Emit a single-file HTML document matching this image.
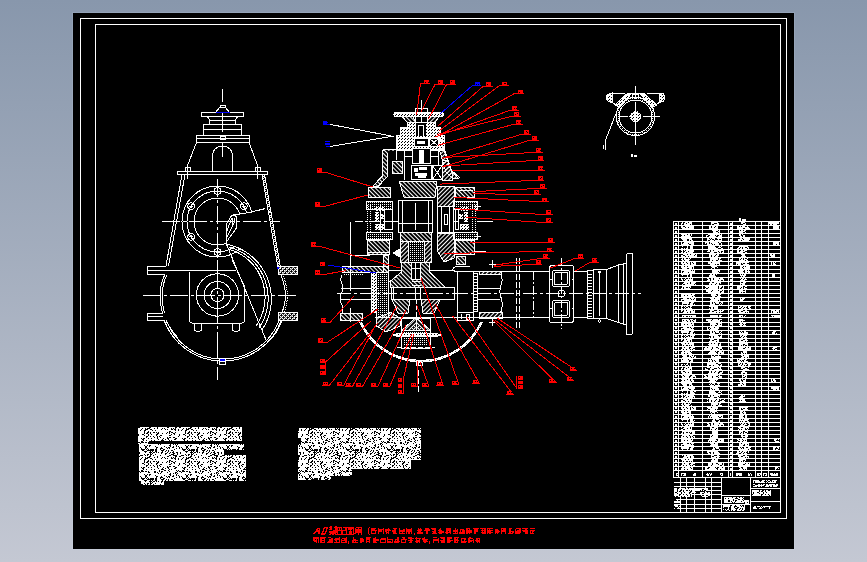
<!DOCTYPE html>
<html><head><meta charset="utf-8"><title>CAD</title>
<style>
html,body{margin:0;padding:0;width:867px;height:562px;overflow:hidden;background:linear-gradient(to bottom,#8897ac 0%,#c4c8d3 100%);font-family:"Liberation Sans",sans-serif;}
svg{position:absolute;left:0;top:0;display:block}
</style></head>
<body>
<svg width="867" height="562" viewBox="0 0 867 562" shape-rendering="crispEdges">
<defs>
<pattern id="h1" width="3" height="3" patternUnits="userSpaceOnUse" patternTransform="rotate(-45)"><rect width="1" height="3" fill="#fff"/></pattern>
<pattern id="h2" width="3" height="3" patternUnits="userSpaceOnUse" patternTransform="rotate(45)"><rect width="1" height="3" fill="#fff"/></pattern>
<pattern id="wd" width="3" height="3" patternUnits="userSpaceOnUse"><rect width="3" height="3" fill="#fff"/><rect x="0" y="0" width="1" height="1" fill="#000"/><rect x="2" y="1" width="1" height="1" fill="#000"/></pattern>
<pattern id="dots" width="2" height="2" patternUnits="userSpaceOnUse"><rect width="1" height="1" fill="#fff"/></pattern>
<pattern id="tx" width="41" height="29" patternUnits="userSpaceOnUse"><rect width="41" height="29" fill="#fff"/><path d="M0,6h1v1h-1zM0,11h1v1h-1zM0,14h1v1h-1zM0,22h1v1h-1zM1,4h1v1h-1zM1,6h1v1h-1zM1,16h1v1h-1zM1,18h1v1h-1zM1,19h1v1h-1zM1,23h1v1h-1zM2,12h1v1h-1zM2,15h1v1h-1zM2,18h1v1h-1zM2,27h1v1h-1zM3,2h1v1h-1zM3,3h1v1h-1zM3,8h1v1h-1zM3,13h1v1h-1zM3,17h1v1h-1zM3,21h1v1h-1zM3,23h1v1h-1zM3,26h1v1h-1zM4,3h1v1h-1zM4,4h1v1h-1zM4,6h1v1h-1zM4,12h1v1h-1zM4,15h1v1h-1zM4,16h1v1h-1zM4,21h1v1h-1zM5,0h1v1h-1zM5,2h1v1h-1zM5,5h1v1h-1zM5,7h1v1h-1zM5,10h1v1h-1zM5,12h1v1h-1zM5,13h1v1h-1zM5,18h1v1h-1zM5,20h1v1h-1zM5,25h1v1h-1zM5,26h1v1h-1zM5,27h1v1h-1zM6,0h1v1h-1zM6,2h1v1h-1zM6,9h1v1h-1zM6,10h1v1h-1zM6,11h1v1h-1zM6,17h1v1h-1zM6,20h1v1h-1zM6,25h1v1h-1zM7,5h1v1h-1zM7,15h1v1h-1zM7,19h1v1h-1zM7,22h1v1h-1zM7,23h1v1h-1zM7,26h1v1h-1zM7,28h1v1h-1zM8,12h1v1h-1zM8,15h1v1h-1zM8,17h1v1h-1zM8,19h1v1h-1zM8,23h1v1h-1zM8,26h1v1h-1zM9,2h1v1h-1zM9,9h1v1h-1zM9,11h1v1h-1zM9,12h1v1h-1zM9,16h1v1h-1zM9,17h1v1h-1zM9,18h1v1h-1zM9,19h1v1h-1zM9,20h1v1h-1zM9,22h1v1h-1zM9,27h1v1h-1zM10,2h1v1h-1zM10,4h1v1h-1zM10,14h1v1h-1zM10,18h1v1h-1zM10,20h1v1h-1zM10,23h1v1h-1zM10,27h1v1h-1zM10,28h1v1h-1zM11,3h1v1h-1zM11,4h1v1h-1zM11,8h1v1h-1zM11,9h1v1h-1zM11,20h1v1h-1zM11,21h1v1h-1zM11,22h1v1h-1zM11,23h1v1h-1zM11,24h1v1h-1zM11,26h1v1h-1zM12,3h1v1h-1zM12,6h1v1h-1zM12,8h1v1h-1zM12,10h1v1h-1zM12,11h1v1h-1zM12,13h1v1h-1zM12,17h1v1h-1zM12,20h1v1h-1zM12,21h1v1h-1zM13,7h1v1h-1zM13,9h1v1h-1zM13,17h1v1h-1zM13,18h1v1h-1zM13,19h1v1h-1zM14,1h1v1h-1zM14,6h1v1h-1zM14,11h1v1h-1zM14,23h1v1h-1zM14,24h1v1h-1zM15,0h1v1h-1zM15,7h1v1h-1zM15,12h1v1h-1zM15,13h1v1h-1zM15,21h1v1h-1zM15,28h1v1h-1zM16,7h1v1h-1zM16,17h1v1h-1zM16,18h1v1h-1zM16,21h1v1h-1zM17,8h1v1h-1zM17,12h1v1h-1zM17,20h1v1h-1zM17,24h1v1h-1zM18,3h1v1h-1zM18,6h1v1h-1zM18,7h1v1h-1zM18,13h1v1h-1zM18,14h1v1h-1zM18,20h1v1h-1zM18,23h1v1h-1zM19,4h1v1h-1zM19,6h1v1h-1zM19,7h1v1h-1zM19,14h1v1h-1zM19,15h1v1h-1zM19,20h1v1h-1zM19,22h1v1h-1zM19,28h1v1h-1zM20,3h1v1h-1zM20,4h1v1h-1zM20,5h1v1h-1zM20,7h1v1h-1zM20,14h1v1h-1zM20,15h1v1h-1zM20,28h1v1h-1zM21,0h1v1h-1zM21,3h1v1h-1zM21,10h1v1h-1zM21,14h1v1h-1zM21,16h1v1h-1zM21,19h1v1h-1zM21,24h1v1h-1zM21,25h1v1h-1zM21,26h1v1h-1zM21,27h1v1h-1zM22,7h1v1h-1zM22,11h1v1h-1zM22,12h1v1h-1zM22,13h1v1h-1zM22,16h1v1h-1zM22,17h1v1h-1zM22,20h1v1h-1zM22,22h1v1h-1zM22,23h1v1h-1zM22,24h1v1h-1zM23,1h1v1h-1zM23,2h1v1h-1zM23,5h1v1h-1zM23,7h1v1h-1zM23,11h1v1h-1zM23,12h1v1h-1zM23,14h1v1h-1zM23,16h1v1h-1zM23,23h1v1h-1zM23,27h1v1h-1zM24,1h1v1h-1zM24,10h1v1h-1zM24,13h1v1h-1zM24,15h1v1h-1zM24,19h1v1h-1zM24,20h1v1h-1zM24,22h1v1h-1zM24,23h1v1h-1zM24,26h1v1h-1zM24,27h1v1h-1zM25,0h1v1h-1zM25,3h1v1h-1zM25,7h1v1h-1zM25,8h1v1h-1zM25,14h1v1h-1zM25,15h1v1h-1zM25,19h1v1h-1zM25,22h1v1h-1zM25,25h1v1h-1zM25,26h1v1h-1zM25,28h1v1h-1zM26,8h1v1h-1zM26,10h1v1h-1zM26,11h1v1h-1zM26,15h1v1h-1zM26,17h1v1h-1zM26,21h1v1h-1zM26,22h1v1h-1zM27,1h1v1h-1zM27,10h1v1h-1zM27,14h1v1h-1zM27,15h1v1h-1zM27,16h1v1h-1zM27,17h1v1h-1zM27,18h1v1h-1zM27,19h1v1h-1zM27,20h1v1h-1zM27,21h1v1h-1zM27,23h1v1h-1zM27,26h1v1h-1zM27,27h1v1h-1zM28,3h1v1h-1zM28,5h1v1h-1zM28,14h1v1h-1zM28,15h1v1h-1zM28,17h1v1h-1zM28,19h1v1h-1zM28,23h1v1h-1zM28,28h1v1h-1zM29,14h1v1h-1zM29,15h1v1h-1zM29,16h1v1h-1zM29,18h1v1h-1zM29,24h1v1h-1zM30,1h1v1h-1zM30,14h1v1h-1zM30,15h1v1h-1zM30,17h1v1h-1zM30,20h1v1h-1zM30,26h1v1h-1zM31,2h1v1h-1zM31,5h1v1h-1zM31,7h1v1h-1zM31,8h1v1h-1zM31,17h1v1h-1zM31,22h1v1h-1zM31,26h1v1h-1zM32,7h1v1h-1zM32,8h1v1h-1zM32,11h1v1h-1zM32,14h1v1h-1zM32,15h1v1h-1zM32,16h1v1h-1zM32,19h1v1h-1zM32,24h1v1h-1zM33,0h1v1h-1zM33,12h1v1h-1zM33,13h1v1h-1zM33,14h1v1h-1zM33,15h1v1h-1zM33,16h1v1h-1zM33,17h1v1h-1zM33,26h1v1h-1zM33,28h1v1h-1zM34,1h1v1h-1zM34,2h1v1h-1zM34,3h1v1h-1zM34,8h1v1h-1zM34,12h1v1h-1zM34,21h1v1h-1zM34,22h1v1h-1zM34,27h1v1h-1zM34,28h1v1h-1zM35,4h1v1h-1zM35,9h1v1h-1zM35,17h1v1h-1zM35,26h1v1h-1zM35,27h1v1h-1zM36,1h1v1h-1zM36,6h1v1h-1zM36,7h1v1h-1zM37,0h1v1h-1zM37,2h1v1h-1zM37,9h1v1h-1zM37,13h1v1h-1zM37,14h1v1h-1zM37,20h1v1h-1zM38,0h1v1h-1zM38,5h1v1h-1zM38,7h1v1h-1zM38,8h1v1h-1zM38,12h1v1h-1zM38,13h1v1h-1zM38,15h1v1h-1zM38,17h1v1h-1zM38,18h1v1h-1zM38,23h1v1h-1zM39,4h1v1h-1zM39,5h1v1h-1zM39,7h1v1h-1zM39,13h1v1h-1zM39,15h1v1h-1zM39,16h1v1h-1zM39,17h1v1h-1zM39,22h1v1h-1zM39,27h1v1h-1zM40,3h1v1h-1zM40,5h1v1h-1zM40,14h1v1h-1zM40,15h1v1h-1z" fill="#000"/></pattern>
</defs>
<rect x="72.5" y="12.5" width="722" height="537" fill="none" stroke="rgba(225,235,255,0.12)"/>
<rect x="73" y="13" width="721" height="536" fill="#000"/>
<g fill="none" stroke="#fff" stroke-width="1" shape-rendering="crispEdges">
<rect x="80.5" y="18.5" width="706" height="500"/>
<rect x="95.5" y="24.5" width="685" height="488"/>
</g>
<!-- LEFT VIEW -->
<g fill="none" stroke="#fff" stroke-width="1">
<!-- top centerline -->
<path d="M222.5,89V102M222.5,112V132M222.5,142V157"/>
<!-- cap -->
<path d="M215.5,112.5L219.5,107.5H225.5L229.5,112.5"/>
<path d="M220,107.5V105.5H225V107.5"/>
<!-- flange -->
<rect x="201.5" y="112.5" width="42" height="3.5"/>
<path d="M206,116Q209,117 209.5,120.5M239,116Q236,117 235.5,120.5"/>
<rect x="209.5" y="120.5" width="26" height="4"/>
<rect x="203.5" y="124.5" width="38" height="11"/>
<path d="M203.5,129.5H241.5"/>
<rect x="196.5" y="135.5" width="52.5" height="7"/>
<path d="M196.5,138.5H249"/>
<path d="M220,136.5h5v3h-5z"/>
<!-- taper -->
<path d="M196.5,142.5L186.5,168M249,142.5L258.5,168"/>
<!-- arch -->
<path d="M212.5,171V155A10,9 0 0 1 232.5,155V171"/>
<!-- plate -->
<rect x="177.5" y="171.5" width="90" height="3"/>
<rect x="185.5" y="167.5" width="5" height="4"/>
<rect x="255.5" y="167.5" width="5" height="4"/>
<path d="M187.5,164V179M257.5,164V179"/>
<!-- left wall -->
<path d="M182,174.5L166,266M185,174.5L168.5,266"/>
<!-- right wall -->
<path d="M262,174.5L278,268M264.5,174.5L280.5,268"/>
<path d="M263.5,176L279,266" stroke-dasharray="1,1"/>
<!-- ribs -->
<path d="M166,266.5H147.5V274.5H165M147.5,270.5H166"/>
<path d="M163,313.5H147.5V320.5H164M147.5,316.5H163"/>
<rect x="278.5" y="266.5" width="19" height="7.5" fill="url(#dots)"/><rect x="278.5" y="266.5" width="19" height="7.5" fill="url(#h2)"/>
<rect x="278.5" y="312.5" width="19" height="7.5" fill="url(#dots)"/><rect x="278.5" y="312.5" width="19" height="7.5" fill="url(#h2)"/>
<!-- lower wall -->
<path d="M165,274.5Q160.5,282 160,296Q160.5,306 162.5,313M164,320.5Q168,330 176,340"/>
<path d="M167,275Q162.5,283 162,296Q162.5,306 164.5,313M166,320.5Q170,329 178,338"/>
<path d="M280.5,274Q285,284 285.5,296Q285,306 282,312M282,320Q278,332 270,340"/>
<path d="M282.5,274Q287,284 287.5,296Q287,306 284,312" stroke-dasharray="1,1"/>
<!-- big lower arc -->
<path d="M164,320A62.5,62.5 0 0 0 281.5,320"/>
<path d="M166.5,321A60.5,60.5 0 0 0 279,321"/>
<!-- flange circles -->
<circle cx="217.5" cy="221.5" r="35.5"/>
<circle cx="217.5" cy="221.5" r="30.5"/>
<circle cx="217.5" cy="221.5" r="23.5"/>
<g>
<circle cx="217.5" cy="191.0" r="3.3"/><circle cx="191.1" cy="206.2" r="3.3"/><circle cx="243.9" cy="206.2" r="3.3"/><circle cx="191.1" cy="236.8" r="3.3"/><circle cx="217.5" cy="252.0" r="3.3"/>
<path d="M215.5,191.0h4M217.5,189.0v4M189.1,206.2h4M191.1,204.2v4M241.9,206.2h4M243.9,204.2v4M189.1,236.8h4M191.1,234.8v4M215.5,252.0h4M217.5,250.0v4"/>
</g>
<!-- centerlines -->
<path d="M162,221.5H280M217.5,179V268" stroke-dasharray="18,3,3,3"/>
<path d="M143,295H298" stroke-dasharray="18,3,3,3"/>
<path d="M217.5,262V380" stroke-dasharray="26,3,3,3"/>
<!-- lower box -->
<path d="M164,270.5H236M189.5,272V320.5Q189.5,323 192,323H242Q244.5,323 244.5,320.5V287"/>
<circle cx="217.5" cy="295" r="21.2"/>
<circle cx="217.5" cy="295" r="13.5"/>
<circle cx="217.5" cy="295" r="6.6"/>
<!-- feet -->
<path d="M194.5,323V329Q194.5,331.5 198,331.5Q201.5,331.5 201.5,329V323M232.5,323V329Q232.5,331.5 236,331.5Q239.5,331.5 239.5,329V323"/>
<!-- S curve -->
<path d="M236.5,214.8L265.5,208.5L269,225L272.5,243L272,262L258,258L248,252L238,247.5L227,244.5V222Z" fill="#000" stroke="none"/>
<path d="M237.5,214.5L251.5,212L265.5,208.5"/>
<path d="M226,242.5V225L231,216.5Q233,215 235,215.5Q236.8,216.5 236.8,218.5V227.5L226,242.5"/>
<path d="M231.5,218.5L226.8,231.5M234.8,221L227.2,237M232,217.5V225M234.5,218V223M231,215.5L237.6,214.2"/>
<path d="M226,243L266,340"/>
<path d="M226,244A56,56 0 0 1 262,330"/>
<path d="M229,247A53,53 0 0 1 259,328"/>
<path d="M231.5,250A50,50 0 0 1 256,326"/>
<path d="M232,260L245,287"/>
<path d="M162,221.5H280" stroke-dasharray="18,3,3,3"/>
</g>
<!-- CENTER SECTION -->
<g stroke="#fff" stroke-width="1">
<path d="M421.5,100V109" fill="none"/>
<rect x="415.5" y="108.5" width="12" height="4" fill="none"/>
<!-- flange -->
<path d="M396,112.5H441Q443.5,112.5 443.5,114.5Q443.5,116.5 441,116.5H396Q394,116.5 394,114.5Q394,112.5 396,112.5Z" fill="url(#wd)"/>
<path d="M402,116.5H413L415.5,122.5H407.5Z" fill="url(#h1)"/>
<path d="M428,116.5H439L435,122.5H427Z" fill="url(#h2)"/>
<path d="M415.5,110V122M421.5,109V122M427.5,110V122" fill="none"/>
<path d="M407.5,122.5H435V127H440V135H444V150H396V135H400.5V127H407.5Z" fill="url(#wd)"/>
<path d="M407.5,122.5H435" fill="none"/>
<rect x="416" y="122.5" width="10" height="13" fill="#000" stroke="none"/>
<path d="M418.5,136V125H423.5V136" fill="none"/>
<!-- cells row1 -->
<rect x="414.5" y="138.5" width="14" height="8" fill="#000"/>
<path d="M417,141h8v3h-8z" fill="#fff" stroke="none"/>
<rect x="429.5" y="138.5" width="9" height="8" fill="#000"/>
<path d="M429.5,138.5L438.5,146.5M438.5,138.5L429.5,146.5" fill="none"/>
<!-- housing walls -->
<path d="M396,149H386Q382.5,149 382.5,152.5V176L372.5,186.5H378L387,177V153H396Z" fill="url(#h1)"/>
<path d="M439.5,136.5L450.5,169.5L460,178" fill="none"/>
<path d="M438,148H444L451,170L458,178H452L446,172L440,152Z" fill="url(#h2)"/>
<!-- middle -->
<rect x="387.5" y="150.5" width="51" height="30" fill="#000" stroke="none"/>
<path d="M396.5,150V160M392,161H402L402,173H392Z" fill="none"/>
<path d="M392,161H402V173H392Z" fill="url(#h1)"/>
<rect x="412.5" y="148.5" width="18" height="15" fill="#000"/>
<path d="M419,163V150H423.5V163" fill="#fff"/>
<path d="M404.5,149V180M404.5,156.5H412M430.5,156H438M438.5,148V180" fill="none"/>
<rect x="411.5" y="165.5" width="20" height="14" fill="#000"/>
<path d="M414,168h4v4h-4zM419,167h8v3h-8zM415,173h12v3h-12zM418,176h8v2h-8z" fill="#fff" stroke="none"/>
<rect x="432.5" y="165.5" width="9.5" height="14" fill="#000"/>
<path d="M432.5,165.5L442,179.5M442,165.5L432.5,179.5" fill="none"/>
<path d="M442.5,160H448L452,172V180H442.5Z" fill="url(#h2)"/>
<!-- gear top -->
<path d="M399,181H437L435,197H404Z" fill="url(#h1)"/>
<!-- left bearing column -->
<rect x="367.5" y="186.5" width="24" height="70" fill="#000" stroke="none"/>
<path d="M368.5,187.5H390.5V197.5H368.5Z" fill="url(#h1)"/>
<path d="M366.5,201.5H392.5V209.5H366.5Z" fill="url(#dots)"/>
<path d="M366.5,232.5H392.5V239.5H366.5Z" fill="url(#dots)"/>
<path d="M355,221.5H400" fill="none" stroke-dasharray="8,2,2,2"/>
<path d="M367.5,252.5H389.5" fill="none"/>
<path d="M367.5,240.5H389.5V254.5H367.5Z" fill="url(#h1)"/>
<path d="M370.5,205V232M367.5,205V232" fill="none" stroke-dasharray="1,1"/>
<path d="M375,207h9v4h-9zM375,212h4v10h-4zM380,214h4v5h-4zM375,224h9v6h-9z" fill="url(#wd)" stroke="none"/>
<rect x="384.5" y="209.5" width="8" height="20" fill="none"/>
<path d="M384.5,221.5H400M380.5,205V232" fill="none"/>
<!-- right bearing column -->
<rect x="454.5" y="186.5" width="21" height="70" fill="#000" stroke="none"/>
<path d="M455.5,187.5H474.5V197.5H455.5Z" fill="url(#h1)"/>
<path d="M453.5,201.5H477.5V209.5H453.5Z" fill="url(#dots)"/>
<path d="M453.5,232.5H477.5V239.5H453.5Z" fill="url(#dots)"/>
<path d="M455.5,240.5H474.5V254.5H455.5Z" fill="url(#h1)"/>
<path d="M472.5,205V232M475.5,205V232" fill="none" stroke-dasharray="1,1"/>
<path d="M461,207h8v4h-8zM464,212h4v10h-4zM459,214h4v5h-4zM460,224h9v6h-9z" fill="url(#wd)" stroke="none"/>
<rect x="455.5" y="209.5" width="3" height="20" fill="none"/>
<path d="M474.5,206.5H481M477,221.5H493M474.5,236.5H481M474.5,251.5H486M441,221.5H458M458,190.5H473" fill="none"/>
<path d="M456.5,256.5H465.5V264H456.5Z" fill="url(#h1)"/>
<!-- right bevel -->
<path d="M437,186H454V206H437Z" fill="url(#h2)"/>
<path d="M437,233H454V258L444,262L437,250Z" fill="url(#h2)"/>
<rect x="437.5" y="206.5" width="16" height="26" fill="#000"/>
<path d="M441.5,207V232M449.5,207V232M444,214h3v10h-3z" fill="none"/>
<!-- shaft box -->
<rect x="398.5" y="200.5" width="34" height="32" fill="#000"/>
<path d="M398.5,200.5H432.5V232.5H398.5ZM402.5,200.5V232.5M428.5,200.5V232.5M415.5,203V230M398.5,223.5H432.5" fill="none"/>
<!-- lower gear -->
<path d="M400.5,232.5H431.5V241H400.5Z" fill="url(#h1)"/>
<path d="M400.5,241H408V262.5H400.5ZM424,241H431.5V262.5H424Z" fill="url(#h2)"/>
<rect x="408" y="241" width="16" height="21" fill="url(#dots)" stroke="none"/>
<path d="M393,253L400,249V257Z" fill="#fff"/>
<!-- vertical shaft + upper bevel wedge -->
<path d="M401.5,262.5H429.5V272L442.5,284.5L445,287.5H391L390,281.5L401.5,272Z" fill="url(#h1)"/>
<rect x="411.5" y="262.5" width="8.5" height="17" fill="#000"/>
<path d="M415.5,263V279M411.5,268.5H420M411.5,279.5H420" fill="none"/>
<path d="M411.5,281.5H421M411.5,285.5H421" fill="none"/>
<!-- horizontal band -->
<path d="M388.5,270.5H401M430,270.5H454.5" fill="none"/>
<!-- left shaft housing -->
<path d="M342.5,266.5H388.5V272.5H342.5Z" fill="url(#h1)"/>
<path d="M383.5,255H388.5V272H383.5Z" fill="url(#h1)"/>
<rect x="342.5" y="272.5" width="20" height="2" fill="url(#dots)" stroke="none"/>
<path d="M342,275Q339.5,280 342.5,285Q344,290 340.5,295Q339,300 342.5,306Q344,310 341.5,314" fill="none"/>
<path d="M340.5,288.5H378M340.5,299.5H378" fill="none"/>
<path d="M340.5,313.5H362.5V320.5H340.5Z" fill="url(#h1)"/>
<rect x="371.5" y="272.5" width="5" height="40" fill="url(#wd)"/>
<rect x="376.5" y="272.5" width="12" height="45" fill="url(#dots)"/>
<path d="M376.5,317.5L391,312.5L400,318V326L386,332L376.5,326Z" fill="url(#h2)"/>
<path d="M350.5,255V291M350.5,308V322M350.5,222V255H369.5" fill="none"/>
<!-- central horizontal shaft -->
<rect x="391.5" y="287.5" width="63" height="11.5" fill="#000"/>
<path d="M393.5,287.5V299M415.5,287.5V299M420.5,287.5V299" fill="none"/>
<!-- lower bevel wedges -->
<path d="M392,299.5H410L408,313L398,313Z" fill="url(#h1)"/>
<path d="M421,299.5H440L434,313L423,313Z" fill="url(#h2)"/>
<path d="M375,317.5H458" fill="none"/>
<!-- RIGHT SHAFT -->
<path d="M454,271.5H549M573.5,271.5H588M454,317.5H549M573.5,317.5H588" fill="none"/>
<path d="M452.5,271Q453,266.5 457,266.5H470" fill="none"/>
<rect x="457.5" y="271.5" width="16" height="41" fill="#000"/>
<rect x="457.5" y="312.5" width="16" height="8" fill="none"/>
<path d="M461,314v5M466,314h3v5h-3z" fill="none"/>
<path d="M473.5,273.5H477V311.5H473.5Z" fill="none"/>
<path d="M474,276h3M474,279h3M474,282h3M474,285h3M474,288h3M474,291h3M474,294h3M474,297h3M474,300h3M474,303h3M474,306h3M474,309h3" fill="none"/>
<path d="M479,271.5H501V274.5H479Z" fill="url(#h2)"/>
<path d="M479,312.5H502.5V318H479Z" fill="url(#h2)"/>
<path d="M477,288.5H500M477,299.5H500" fill="none"/>
<path d="M501,274Q503.5,280 500.5,287Q499,293 501.5,299Q503.5,306 500.5,313" fill="none"/>
<path d="M492.5,260V268M492.5,318V326M489,264.5h7M489,322.5h7" fill="none"/>
<path d="M502.5,271.5H549M502.5,317.5H549" fill="none"/>
<path d="M516.5,258V330M519.5,258V330" fill="none" stroke-dasharray="6,2"/>
<path d="M533.5,271V318" fill="none" stroke-dasharray="9,2,2,2"/>
<!-- coupling -->
<rect x="549.5" y="265.5" width="24" height="57" rx="2.5" fill="none"/>
<rect x="552.5" y="270.5" width="17" height="16" rx="2" fill="none"/>
<rect x="554.5" y="272.5" width="13" height="12" rx="1.5" fill="none"/>
<rect x="552.5" y="300.5" width="17" height="17" rx="2" fill="none"/>
<rect x="554.5" y="302.5" width="13" height="13" rx="1.5" fill="none"/>
<circle cx="561.5" cy="293.5" r="3.5" fill="none"/>
<path d="M561.5,258V329" fill="none" stroke-dasharray="8,2,2,2"/>
<path d="M549.5,279h2M549.5,308h2M571.5,279h2M571.5,308h2" fill="none"/>
<rect x="587.5" y="270.5" width="5.5" height="48" fill="none"/>
<path d="M588,274h4M588,277h4M588,280h4M588,283h4M588,286h4M588,289h4M588,292h4M588,295h4M588,298h4M588,301h4M588,304h4M588,307h4M588,310h4M588,313h4M588,316h4" fill="none"/>
<path d="M593,269.5H606.5V318.5H593ZM599.5,272V316" fill="none"/>
<circle cx="599.5" cy="272" r="1" fill="none"/><circle cx="599.5" cy="321" r="1.3" fill="none"/>
<path d="M606.5,269.5L618.5,265L626,263.5M606.5,318.5L618.5,322.5L626,324.5M618.5,265V322.5M623.5,263.5V324.5" fill="none"/>
<rect x="626.5" y="253.5" width="6" height="81" rx="1.5" fill="none"/>
<path d="M454,293.5H641" fill="none" stroke-dasharray="14,3,3,3"/>
<path d="M337,293.5H454" fill="none" stroke-dasharray="14,3,3,3"/>
<!-- lower big arc (dotted band) -->
<path d="M360.5,322A66.3,66.3 0 0 0 481.5,322" fill="none" stroke-width="2.6"/>
<path d="M360.5,322A66.3,66.3 0 0 0 481.5,322" fill="none" stroke="#000" stroke-width="0.6" stroke-dasharray="1,6"/>
<path d="M418.5,360V366M416,362h6v3h-6z" fill="none"/>
<path d="M418.5,370V392" fill="none" stroke-dasharray="6,2"/>
<!-- lower bevel parts -->
<path d="M401.5,318H430.5V348H401.5Z" fill="#000"/>
<path d="M401.5,330.5L416,317.5V330.5Z" fill="url(#h2)"/>
<path d="M430.5,330.5L416,317.5V330.5Z" fill="url(#h1)"/>
<path d="M407,330.5L416,323L425,330.5Z" fill="url(#dots)" stroke="none"/>
<path d="M401.5,330.5L416,317.5L430.5,330.5" fill="none"/>
<path d="M393.5,335L397,333.5H436.5L440.5,335L436.5,336.5H397Z" fill="url(#wd)"/>
<rect x="404" y="337" width="24" height="9" fill="url(#dots)" stroke="none"/>
<path d="M404,331h24v2h-24z" fill="url(#dots)" stroke="none"/>
<path d="M397,347.5H435" fill="none" stroke-dasharray="5,2"/>
<path d="M416,300V318" fill="none" stroke-dasharray="4,2"/>
</g>
<!-- TABLE -->
<g shape-rendering="crispEdges">
<rect x="675.0" y="222.5" width="2.0" height="2.0" fill="#fff"/>
<rect x="681.2" y="222.0" width="10.8" height="3.0" fill="url(#tx)"/>
<rect x="710.7" y="222.0" width="7.9" height="3.0" fill="url(#tx)"/>
<rect x="730.0" y="222.5" width="1.5" height="2.0" fill="#fff"/>
<rect x="740.8" y="222.0" width="5.5" height="3.0" fill="url(#tx)"/>
<rect x="770.3" y="222.0" width="6.2" height="3.0" fill="url(#tx)"/>
<rect x="675.0" y="226.5" width="2.0" height="2.0" fill="#fff"/>
<rect x="681.3" y="226.0" width="12.3" height="3.0" fill="url(#tx)"/>
<rect x="709.1" y="226.0" width="8.6" height="3.0" fill="url(#tx)"/>
<rect x="730.0" y="226.5" width="1.5" height="2.0" fill="#fff"/>
<rect x="737.4" y="226.0" width="12.6" height="3.0" fill="url(#tx)"/>
<rect x="675.0" y="230.5" width="2.0" height="2.0" fill="#fff"/>
<rect x="712.1" y="230.0" width="7.6" height="3.0" fill="url(#tx)"/>
<rect x="730.0" y="230.5" width="1.5" height="2.0" fill="#fff"/>
<rect x="739.3" y="230.0" width="6.2" height="3.0" fill="url(#tx)"/>
<rect x="675.0" y="234.6" width="2.0" height="2.0" fill="#fff"/>
<rect x="681.1" y="234.1" width="11.0" height="3.0" fill="url(#tx)"/>
<rect x="706.3" y="234.1" width="15.3" height="3.0" fill="url(#tx)"/>
<rect x="730.0" y="234.6" width="1.5" height="2.0" fill="#fff"/>
<rect x="739.4" y="234.1" width="5.5" height="3.0" fill="url(#tx)"/>
<rect x="675.0" y="238.6" width="2.0" height="2.0" fill="#fff"/>
<rect x="680.8" y="238.1" width="12.4" height="3.0" fill="url(#tx)"/>
<rect x="707.0" y="238.1" width="14.6" height="3.0" fill="url(#tx)"/>
<rect x="730.0" y="238.6" width="1.5" height="2.0" fill="#fff"/>
<rect x="738.4" y="238.1" width="11.4" height="3.0" fill="url(#tx)"/>
<rect x="675.0" y="242.6" width="2.0" height="2.0" fill="#fff"/>
<rect x="681.4" y="242.1" width="12.9" height="3.0" fill="url(#tx)"/>
<rect x="705.4" y="242.1" width="16.5" height="3.0" fill="url(#tx)"/>
<rect x="730.0" y="242.6" width="1.5" height="2.0" fill="#fff"/>
<rect x="773.0" y="242.1" width="6.1" height="3.0" fill="url(#tx)"/>
<rect x="675.0" y="246.6" width="2.0" height="2.0" fill="#fff"/>
<rect x="680.5" y="246.1" width="12.7" height="3.0" fill="url(#tx)"/>
<rect x="707.7" y="246.1" width="15.7" height="3.0" fill="url(#tx)"/>
<rect x="730.0" y="246.6" width="1.5" height="2.0" fill="#fff"/>
<rect x="736.9" y="246.1" width="12.0" height="3.0" fill="url(#tx)"/>
<rect x="675.0" y="250.6" width="2.0" height="2.0" fill="#fff"/>
<rect x="681.0" y="250.1" width="13.2" height="3.0" fill="url(#tx)"/>
<rect x="707.3" y="250.1" width="17.9" height="3.0" fill="url(#tx)"/>
<rect x="730.0" y="250.6" width="1.5" height="2.0" fill="#fff"/>
<rect x="737.0" y="250.1" width="10.3" height="3.0" fill="url(#tx)"/>
<rect x="675.0" y="254.7" width="2.0" height="2.0" fill="#fff"/>
<rect x="681.3" y="254.2" width="15.5" height="3.0" fill="url(#tx)"/>
<rect x="708.7" y="254.2" width="10.7" height="3.0" fill="url(#tx)"/>
<rect x="730.0" y="254.7" width="1.5" height="2.0" fill="#fff"/>
<rect x="740.8" y="254.2" width="5.2" height="3.0" fill="url(#tx)"/>
<rect x="770.3" y="254.2" width="4.6" height="3.0" fill="url(#tx)"/>
<rect x="675.0" y="258.7" width="2.0" height="2.0" fill="#fff"/>
<rect x="680.7" y="258.2" width="10.7" height="3.0" fill="url(#tx)"/>
<rect x="709.9" y="258.2" width="12.1" height="3.0" fill="url(#tx)"/>
<rect x="730.0" y="258.7" width="1.5" height="2.0" fill="#fff"/>
<rect x="739.4" y="258.2" width="8.6" height="3.0" fill="url(#tx)"/>
<rect x="675.0" y="262.7" width="2.0" height="2.0" fill="#fff"/>
<rect x="680.8" y="262.2" width="14.8" height="3.0" fill="url(#tx)"/>
<rect x="707.7" y="262.2" width="12.4" height="3.0" fill="url(#tx)"/>
<rect x="730.0" y="262.7" width="1.5" height="2.0" fill="#fff"/>
<rect x="736.1" y="262.2" width="12.7" height="3.0" fill="url(#tx)"/>
<rect x="771.1" y="262.2" width="5.2" height="3.0" fill="url(#tx)"/>
<rect x="675.0" y="266.7" width="2.0" height="2.0" fill="#fff"/>
<rect x="680.8" y="266.2" width="13.2" height="3.0" fill="url(#tx)"/>
<rect x="710.6" y="266.2" width="7.1" height="3.0" fill="url(#tx)"/>
<rect x="730.0" y="266.7" width="1.5" height="2.0" fill="#fff"/>
<rect x="740.1" y="266.2" width="9.5" height="3.0" fill="url(#tx)"/>
<rect x="675.0" y="270.7" width="2.0" height="2.0" fill="#fff"/>
<rect x="681.2" y="270.2" width="13.4" height="3.0" fill="url(#tx)"/>
<rect x="712.2" y="270.2" width="7.7" height="3.0" fill="url(#tx)"/>
<rect x="730.0" y="270.7" width="1.5" height="2.0" fill="#fff"/>
<rect x="738.4" y="270.2" width="12.0" height="3.0" fill="url(#tx)"/>
<rect x="675.0" y="274.8" width="2.0" height="2.0" fill="#fff"/>
<rect x="681.1" y="274.3" width="10.6" height="3.0" fill="url(#tx)"/>
<rect x="708.9" y="274.3" width="7.8" height="3.0" fill="url(#tx)"/>
<rect x="730.0" y="274.8" width="1.5" height="2.0" fill="#fff"/>
<rect x="739.9" y="274.3" width="6.3" height="3.0" fill="url(#tx)"/>
<rect x="770.9" y="274.3" width="4.0" height="3.0" fill="url(#tx)"/>
<rect x="675.0" y="278.8" width="2.0" height="2.0" fill="#fff"/>
<rect x="680.5" y="278.3" width="12.0" height="3.0" fill="url(#tx)"/>
<rect x="705.8" y="278.3" width="18.4" height="3.0" fill="url(#tx)"/>
<rect x="730.0" y="278.8" width="1.5" height="2.0" fill="#fff"/>
<rect x="739.5" y="278.3" width="7.0" height="3.0" fill="url(#tx)"/>
<rect x="675.0" y="282.8" width="2.0" height="2.0" fill="#fff"/>
<rect x="681.5" y="282.3" width="14.7" height="3.0" fill="url(#tx)"/>
<rect x="707.9" y="282.3" width="13.1" height="3.0" fill="url(#tx)"/>
<rect x="730.0" y="282.8" width="1.5" height="2.0" fill="#fff"/>
<rect x="740.1" y="282.3" width="5.8" height="3.0" fill="url(#tx)"/>
<rect x="675.0" y="286.8" width="2.0" height="2.0" fill="#fff"/>
<rect x="680.5" y="286.3" width="10.9" height="3.0" fill="url(#tx)"/>
<rect x="704.9" y="286.3" width="19.4" height="3.0" fill="url(#tx)"/>
<rect x="730.0" y="286.8" width="1.5" height="2.0" fill="#fff"/>
<rect x="737.4" y="286.3" width="9.3" height="3.0" fill="url(#tx)"/>
<rect x="675.0" y="290.8" width="2.0" height="2.0" fill="#fff"/>
<rect x="706.2" y="290.3" width="18.2" height="3.0" fill="url(#tx)"/>
<rect x="730.0" y="290.8" width="1.5" height="2.0" fill="#fff"/>
<rect x="738.5" y="290.3" width="7.9" height="3.0" fill="url(#tx)"/>
<rect x="675.0" y="294.9" width="2.0" height="2.0" fill="#fff"/>
<rect x="680.8" y="294.4" width="14.3" height="3.0" fill="url(#tx)"/>
<rect x="710.8" y="294.4" width="9.9" height="3.0" fill="url(#tx)"/>
<rect x="730.0" y="294.9" width="1.5" height="2.0" fill="#fff"/>
<rect x="675.0" y="298.9" width="2.0" height="2.0" fill="#fff"/>
<rect x="681.2" y="298.4" width="14.5" height="3.0" fill="url(#tx)"/>
<rect x="709.6" y="298.4" width="9.9" height="3.0" fill="url(#tx)"/>
<rect x="730.0" y="298.9" width="1.5" height="2.0" fill="#fff"/>
<rect x="739.5" y="298.4" width="5.2" height="3.0" fill="url(#tx)"/>
<rect x="675.0" y="302.9" width="2.0" height="2.0" fill="#fff"/>
<rect x="681.5" y="302.4" width="13.8" height="3.0" fill="url(#tx)"/>
<rect x="709.8" y="302.4" width="12.8" height="3.0" fill="url(#tx)"/>
<rect x="730.0" y="302.9" width="1.5" height="2.0" fill="#fff"/>
<rect x="675.0" y="306.9" width="2.0" height="2.0" fill="#fff"/>
<rect x="680.7" y="306.4" width="11.2" height="3.0" fill="url(#tx)"/>
<rect x="708.5" y="306.4" width="9.6" height="3.0" fill="url(#tx)"/>
<rect x="730.0" y="306.9" width="1.5" height="2.0" fill="#fff"/>
<rect x="738.4" y="306.4" width="12.2" height="3.0" fill="url(#tx)"/>
<rect x="675.0" y="310.9" width="2.0" height="2.0" fill="#fff"/>
<rect x="680.6" y="310.4" width="14.4" height="3.0" fill="url(#tx)"/>
<rect x="708.3" y="310.4" width="15.6" height="3.0" fill="url(#tx)"/>
<rect x="730.0" y="310.9" width="1.5" height="2.0" fill="#fff"/>
<rect x="737.9" y="310.4" width="11.0" height="3.0" fill="url(#tx)"/>
<rect x="770.7" y="310.4" width="7.9" height="3.0" fill="url(#tx)"/>
<rect x="675.0" y="315.0" width="2.0" height="2.0" fill="#fff"/>
<rect x="680.9" y="314.5" width="15.3" height="3.0" fill="url(#tx)"/>
<rect x="710.2" y="314.5" width="12.2" height="3.0" fill="url(#tx)"/>
<rect x="730.0" y="315.0" width="1.5" height="2.0" fill="#fff"/>
<rect x="739.2" y="314.5" width="6.4" height="3.0" fill="url(#tx)"/>
<rect x="771.2" y="314.5" width="8.5" height="3.0" fill="url(#tx)"/>
<rect x="675.0" y="319.0" width="2.0" height="2.0" fill="#fff"/>
<rect x="681.5" y="318.5" width="14.5" height="3.0" fill="url(#tx)"/>
<rect x="706.1" y="318.5" width="15.5" height="3.0" fill="url(#tx)"/>
<rect x="730.0" y="319.0" width="1.5" height="2.0" fill="#fff"/>
<rect x="739.0" y="318.5" width="6.0" height="3.0" fill="url(#tx)"/>
<rect x="675.0" y="323.0" width="2.0" height="2.0" fill="#fff"/>
<rect x="681.4" y="322.5" width="12.9" height="3.0" fill="url(#tx)"/>
<rect x="709.7" y="322.5" width="12.6" height="3.0" fill="url(#tx)"/>
<rect x="730.0" y="323.0" width="1.5" height="2.0" fill="#fff"/>
<rect x="739.4" y="322.5" width="6.7" height="3.0" fill="url(#tx)"/>
<rect x="675.0" y="327.0" width="2.0" height="2.0" fill="#fff"/>
<rect x="680.8" y="326.5" width="13.2" height="3.0" fill="url(#tx)"/>
<rect x="706.8" y="326.5" width="12.4" height="3.0" fill="url(#tx)"/>
<rect x="730.0" y="327.0" width="1.5" height="2.0" fill="#fff"/>
<rect x="675.0" y="331.0" width="2.0" height="2.0" fill="#fff"/>
<rect x="681.4" y="330.5" width="13.2" height="3.0" fill="url(#tx)"/>
<rect x="709.9" y="330.5" width="12.5" height="3.0" fill="url(#tx)"/>
<rect x="730.0" y="331.0" width="1.5" height="2.0" fill="#fff"/>
<rect x="738.9" y="330.5" width="9.3" height="3.0" fill="url(#tx)"/>
<rect x="770.7" y="330.5" width="6.2" height="3.0" fill="url(#tx)"/>
<rect x="675.0" y="335.1" width="2.0" height="2.0" fill="#fff"/>
<rect x="680.7" y="334.6" width="14.4" height="3.0" fill="url(#tx)"/>
<rect x="708.8" y="334.6" width="13.2" height="3.0" fill="url(#tx)"/>
<rect x="730.0" y="335.1" width="1.5" height="2.0" fill="#fff"/>
<rect x="739.8" y="334.6" width="7.6" height="3.0" fill="url(#tx)"/>
<rect x="675.0" y="339.1" width="2.0" height="2.0" fill="#fff"/>
<rect x="681.1" y="338.6" width="10.6" height="3.0" fill="url(#tx)"/>
<rect x="708.5" y="338.6" width="10.2" height="3.0" fill="url(#tx)"/>
<rect x="730.0" y="339.1" width="1.5" height="2.0" fill="#fff"/>
<rect x="739.2" y="338.6" width="9.1" height="3.0" fill="url(#tx)"/>
<rect x="675.0" y="343.1" width="2.0" height="2.0" fill="#fff"/>
<rect x="681.1" y="342.6" width="12.4" height="3.0" fill="url(#tx)"/>
<rect x="707.8" y="342.6" width="13.6" height="3.0" fill="url(#tx)"/>
<rect x="730.0" y="343.1" width="1.5" height="2.0" fill="#fff"/>
<rect x="739.3" y="342.6" width="8.6" height="3.0" fill="url(#tx)"/>
<rect x="675.0" y="347.1" width="2.0" height="2.0" fill="#fff"/>
<rect x="681.4" y="346.6" width="13.8" height="3.0" fill="url(#tx)"/>
<rect x="703.9" y="346.6" width="19.2" height="3.0" fill="url(#tx)"/>
<rect x="730.0" y="347.1" width="1.5" height="2.0" fill="#fff"/>
<rect x="738.2" y="346.6" width="12.5" height="3.0" fill="url(#tx)"/>
<rect x="772.4" y="346.6" width="4.6" height="3.0" fill="url(#tx)"/>
<rect x="675.0" y="351.1" width="2.0" height="2.0" fill="#fff"/>
<rect x="680.6" y="350.6" width="11.3" height="3.0" fill="url(#tx)"/>
<rect x="707.8" y="350.6" width="15.7" height="3.0" fill="url(#tx)"/>
<rect x="730.0" y="351.1" width="1.5" height="2.0" fill="#fff"/>
<rect x="741.0" y="350.6" width="6.2" height="3.0" fill="url(#tx)"/>
<rect x="675.0" y="355.2" width="2.0" height="2.0" fill="#fff"/>
<rect x="681.5" y="354.7" width="14.9" height="3.0" fill="url(#tx)"/>
<rect x="711.4" y="354.7" width="9.9" height="3.0" fill="url(#tx)"/>
<rect x="730.0" y="355.2" width="1.5" height="2.0" fill="#fff"/>
<rect x="740.5" y="354.7" width="8.9" height="3.0" fill="url(#tx)"/>
<rect x="675.0" y="359.2" width="2.0" height="2.0" fill="#fff"/>
<rect x="681.0" y="358.7" width="12.4" height="3.0" fill="url(#tx)"/>
<rect x="707.6" y="358.7" width="11.4" height="3.0" fill="url(#tx)"/>
<rect x="730.0" y="359.2" width="1.5" height="2.0" fill="#fff"/>
<rect x="736.7" y="358.7" width="10.8" height="3.0" fill="url(#tx)"/>
<rect x="675.0" y="363.2" width="2.0" height="2.0" fill="#fff"/>
<rect x="680.8" y="362.7" width="10.1" height="3.0" fill="url(#tx)"/>
<rect x="707.0" y="362.7" width="15.1" height="3.0" fill="url(#tx)"/>
<rect x="730.0" y="363.2" width="1.5" height="2.0" fill="#fff"/>
<rect x="737.9" y="362.7" width="12.9" height="3.0" fill="url(#tx)"/>
<rect x="675.0" y="367.2" width="2.0" height="2.0" fill="#fff"/>
<rect x="680.5" y="366.7" width="11.5" height="3.0" fill="url(#tx)"/>
<rect x="705.0" y="366.7" width="17.1" height="3.0" fill="url(#tx)"/>
<rect x="730.0" y="367.2" width="1.5" height="2.0" fill="#fff"/>
<rect x="740.5" y="366.7" width="8.4" height="3.0" fill="url(#tx)"/>
<rect x="675.0" y="371.2" width="2.0" height="2.0" fill="#fff"/>
<rect x="681.4" y="370.7" width="10.8" height="3.0" fill="url(#tx)"/>
<rect x="708.1" y="370.7" width="14.4" height="3.0" fill="url(#tx)"/>
<rect x="730.0" y="371.2" width="1.5" height="2.0" fill="#fff"/>
<rect x="741.3" y="370.7" width="5.5" height="3.0" fill="url(#tx)"/>
<rect x="675.0" y="375.3" width="2.0" height="2.0" fill="#fff"/>
<rect x="681.1" y="374.8" width="15.2" height="3.0" fill="url(#tx)"/>
<rect x="704.1" y="374.8" width="17.4" height="3.0" fill="url(#tx)"/>
<rect x="730.0" y="375.3" width="1.5" height="2.0" fill="#fff"/>
<rect x="741.8" y="374.8" width="5.5" height="3.0" fill="url(#tx)"/>
<rect x="675.0" y="379.3" width="2.0" height="2.0" fill="#fff"/>
<rect x="681.4" y="378.8" width="13.0" height="3.0" fill="url(#tx)"/>
<rect x="707.8" y="378.8" width="10.5" height="3.0" fill="url(#tx)"/>
<rect x="730.0" y="379.3" width="1.5" height="2.0" fill="#fff"/>
<rect x="738.9" y="378.8" width="6.9" height="3.0" fill="url(#tx)"/>
<rect x="771.2" y="378.8" width="4.3" height="3.0" fill="url(#tx)"/>
<rect x="675.0" y="383.3" width="2.0" height="2.0" fill="#fff"/>
<rect x="681.3" y="382.8" width="11.7" height="3.0" fill="url(#tx)"/>
<rect x="709.1" y="382.8" width="10.8" height="3.0" fill="url(#tx)"/>
<rect x="730.0" y="383.3" width="1.5" height="2.0" fill="#fff"/>
<rect x="738.2" y="382.8" width="7.8" height="3.0" fill="url(#tx)"/>
<rect x="675.0" y="387.3" width="2.0" height="2.0" fill="#fff"/>
<rect x="681.1" y="386.8" width="14.0" height="3.0" fill="url(#tx)"/>
<rect x="709.7" y="386.8" width="9.5" height="3.0" fill="url(#tx)"/>
<rect x="730.0" y="387.3" width="1.5" height="2.0" fill="#fff"/>
<rect x="770.8" y="386.8" width="8.1" height="3.0" fill="url(#tx)"/>
<rect x="675.0" y="391.3" width="2.0" height="2.0" fill="#fff"/>
<rect x="680.9" y="390.8" width="14.6" height="3.0" fill="url(#tx)"/>
<rect x="708.5" y="390.8" width="13.6" height="3.0" fill="url(#tx)"/>
<rect x="730.0" y="391.3" width="1.5" height="2.0" fill="#fff"/>
<rect x="675.0" y="395.4" width="2.0" height="2.0" fill="#fff"/>
<rect x="681.1" y="394.9" width="13.9" height="3.0" fill="url(#tx)"/>
<rect x="707.8" y="394.9" width="12.3" height="3.0" fill="url(#tx)"/>
<rect x="730.0" y="395.4" width="1.5" height="2.0" fill="#fff"/>
<rect x="739.2" y="394.9" width="6.0" height="3.0" fill="url(#tx)"/>
<rect x="675.0" y="399.4" width="2.0" height="2.0" fill="#fff"/>
<rect x="680.6" y="398.9" width="10.9" height="3.0" fill="url(#tx)"/>
<rect x="707.0" y="398.9" width="17.9" height="3.0" fill="url(#tx)"/>
<rect x="730.0" y="399.4" width="1.5" height="2.0" fill="#fff"/>
<rect x="739.1" y="398.9" width="7.3" height="3.0" fill="url(#tx)"/>
<rect x="675.0" y="403.4" width="2.0" height="2.0" fill="#fff"/>
<rect x="680.9" y="402.9" width="10.9" height="3.0" fill="url(#tx)"/>
<rect x="711.1" y="402.9" width="10.4" height="3.0" fill="url(#tx)"/>
<rect x="730.0" y="403.4" width="1.5" height="2.0" fill="#fff"/>
<rect x="675.0" y="407.4" width="2.0" height="2.0" fill="#fff"/>
<rect x="680.8" y="406.9" width="15.3" height="3.0" fill="url(#tx)"/>
<rect x="706.7" y="406.9" width="11.6" height="3.0" fill="url(#tx)"/>
<rect x="730.0" y="407.4" width="1.5" height="2.0" fill="#fff"/>
<rect x="739.1" y="406.9" width="8.8" height="3.0" fill="url(#tx)"/>
<rect x="675.0" y="411.4" width="2.0" height="2.0" fill="#fff"/>
<rect x="680.8" y="410.9" width="10.0" height="3.0" fill="url(#tx)"/>
<rect x="710.0" y="410.9" width="8.2" height="3.0" fill="url(#tx)"/>
<rect x="730.0" y="411.4" width="1.5" height="2.0" fill="#fff"/>
<rect x="740.3" y="410.9" width="5.2" height="3.0" fill="url(#tx)"/>
<rect x="675.0" y="415.5" width="2.0" height="2.0" fill="#fff"/>
<rect x="681.3" y="415.0" width="12.9" height="3.0" fill="url(#tx)"/>
<rect x="707.6" y="415.0" width="15.5" height="3.0" fill="url(#tx)"/>
<rect x="730.0" y="415.5" width="1.5" height="2.0" fill="#fff"/>
<rect x="738.9" y="415.0" width="8.1" height="3.0" fill="url(#tx)"/>
<rect x="675.0" y="419.5" width="2.0" height="2.0" fill="#fff"/>
<rect x="681.1" y="419.0" width="14.0" height="3.0" fill="url(#tx)"/>
<rect x="712.1" y="419.0" width="7.6" height="3.0" fill="url(#tx)"/>
<rect x="730.0" y="419.5" width="1.5" height="2.0" fill="#fff"/>
<rect x="739.2" y="419.0" width="10.0" height="3.0" fill="url(#tx)"/>
<rect x="675.0" y="423.5" width="2.0" height="2.0" fill="#fff"/>
<rect x="681.0" y="423.0" width="12.9" height="3.0" fill="url(#tx)"/>
<rect x="706.8" y="423.0" width="17.9" height="3.0" fill="url(#tx)"/>
<rect x="730.0" y="423.5" width="1.5" height="2.0" fill="#fff"/>
<rect x="739.8" y="423.0" width="9.7" height="3.0" fill="url(#tx)"/>
<rect x="675.0" y="427.5" width="2.0" height="2.0" fill="#fff"/>
<rect x="680.5" y="427.0" width="11.3" height="3.0" fill="url(#tx)"/>
<rect x="709.6" y="427.0" width="8.7" height="3.0" fill="url(#tx)"/>
<rect x="730.0" y="427.5" width="1.5" height="2.0" fill="#fff"/>
<rect x="737.8" y="427.0" width="11.7" height="3.0" fill="url(#tx)"/>
<rect x="675.0" y="431.5" width="2.0" height="2.0" fill="#fff"/>
<rect x="681.0" y="431.0" width="13.7" height="3.0" fill="url(#tx)"/>
<rect x="712.2" y="431.0" width="7.0" height="3.0" fill="url(#tx)"/>
<rect x="730.0" y="431.5" width="1.5" height="2.0" fill="#fff"/>
<rect x="739.1" y="431.0" width="9.0" height="3.0" fill="url(#tx)"/>
<rect x="675.0" y="435.6" width="2.0" height="2.0" fill="#fff"/>
<rect x="680.8" y="435.1" width="14.1" height="3.0" fill="url(#tx)"/>
<rect x="709.6" y="435.1" width="8.0" height="3.0" fill="url(#tx)"/>
<rect x="730.0" y="435.6" width="1.5" height="2.0" fill="#fff"/>
<rect x="740.9" y="435.1" width="6.6" height="3.0" fill="url(#tx)"/>
<rect x="675.0" y="439.6" width="2.0" height="2.0" fill="#fff"/>
<rect x="681.0" y="439.1" width="12.1" height="3.0" fill="url(#tx)"/>
<rect x="707.6" y="439.1" width="15.9" height="3.0" fill="url(#tx)"/>
<rect x="730.0" y="439.6" width="1.5" height="2.0" fill="#fff"/>
<rect x="737.2" y="439.1" width="10.1" height="3.0" fill="url(#tx)"/>
<rect x="773.5" y="439.1" width="5.3" height="3.0" fill="url(#tx)"/>
<rect x="675.0" y="443.6" width="2.0" height="2.0" fill="#fff"/>
<rect x="680.5" y="443.1" width="13.1" height="3.0" fill="url(#tx)"/>
<rect x="709.7" y="443.1" width="7.8" height="3.0" fill="url(#tx)"/>
<rect x="730.0" y="443.6" width="1.5" height="2.0" fill="#fff"/>
<rect x="738.8" y="443.1" width="10.5" height="3.0" fill="url(#tx)"/>
<rect x="675.0" y="447.6" width="2.0" height="2.0" fill="#fff"/>
<rect x="681.0" y="447.1" width="12.6" height="3.0" fill="url(#tx)"/>
<rect x="711.8" y="447.1" width="8.5" height="3.0" fill="url(#tx)"/>
<rect x="730.0" y="447.6" width="1.5" height="2.0" fill="#fff"/>
<rect x="738.4" y="447.1" width="12.8" height="3.0" fill="url(#tx)"/>
<rect x="773.0" y="447.1" width="6.3" height="3.0" fill="url(#tx)"/>
<rect x="675.0" y="451.6" width="2.0" height="2.0" fill="#fff"/>
<rect x="707.2" y="451.1" width="12.8" height="3.0" fill="url(#tx)"/>
<rect x="730.0" y="451.6" width="1.5" height="2.0" fill="#fff"/>
<rect x="736.3" y="451.1" width="12.6" height="3.0" fill="url(#tx)"/>
<rect x="675.0" y="455.7" width="2.0" height="2.0" fill="#fff"/>
<rect x="681.5" y="455.2" width="12.9" height="3.0" fill="url(#tx)"/>
<rect x="711.4" y="455.2" width="8.7" height="3.0" fill="url(#tx)"/>
<rect x="730.0" y="455.7" width="1.5" height="2.0" fill="#fff"/>
<rect x="738.1" y="455.2" width="12.1" height="3.0" fill="url(#tx)"/>
<rect x="675.0" y="459.7" width="2.0" height="2.0" fill="#fff"/>
<rect x="680.5" y="459.2" width="12.7" height="3.0" fill="url(#tx)"/>
<rect x="710.9" y="459.2" width="7.0" height="3.0" fill="url(#tx)"/>
<rect x="730.0" y="459.7" width="1.5" height="2.0" fill="#fff"/>
<rect x="738.7" y="459.2" width="7.4" height="3.0" fill="url(#tx)"/>
<rect x="675.0" y="463.7" width="2.0" height="2.0" fill="#fff"/>
<rect x="680.5" y="463.2" width="14.6" height="3.0" fill="url(#tx)"/>
<rect x="707.5" y="463.2" width="16.8" height="3.0" fill="url(#tx)"/>
<rect x="730.0" y="463.7" width="1.5" height="2.0" fill="#fff"/>
<rect x="737.9" y="463.2" width="12.4" height="3.0" fill="url(#tx)"/>
<rect x="675.0" y="467.7" width="2.0" height="2.0" fill="#fff"/>
<rect x="680.9" y="467.2" width="12.0" height="3.0" fill="url(#tx)"/>
<rect x="704.9" y="467.2" width="20.0" height="3.0" fill="url(#tx)"/>
<rect x="730.0" y="467.7" width="1.5" height="2.0" fill="#fff"/>
<rect x="738.6" y="467.2" width="8.4" height="3.0" fill="url(#tx)"/>
<rect x="774.6" y="467.2" width="4.5" height="3.0" fill="url(#tx)"/>
<path d="M673.5,221.5H780.5M673.5,225.5H780.5M673.5,229.5H780.5M673.5,233.5H780.5M673.5,237.5H780.5M673.5,241.5H780.5M673.5,245.5H780.5M673.5,249.5H780.5M673.5,253.5H780.5M673.5,257.5H780.5M673.5,261.5H780.5M673.5,265.5H780.5M673.5,269.5H780.5M673.5,273.5H780.5M673.5,277.5H780.5M673.5,281.5H780.5M673.5,285.5H780.5M673.5,289.5H780.5M673.5,293.5H780.5M673.5,297.5H780.5M673.5,301.5H780.5M673.5,305.5H780.5M673.5,309.5H780.5M673.5,313.5H780.5M673.5,317.5H780.5M673.5,322.5H780.5M673.5,326.5H780.5M673.5,330.5H780.5M673.5,334.5H780.5M673.5,338.5H780.5M673.5,342.5H780.5M673.5,346.5H780.5M673.5,350.5H780.5M673.5,354.5H780.5M673.5,358.5H780.5M673.5,362.5H780.5M673.5,366.5H780.5M673.5,370.5H780.5M673.5,374.5H780.5M673.5,378.5H780.5M673.5,382.5H780.5M673.5,386.5H780.5M673.5,390.5H780.5M673.5,394.5H780.5M673.5,398.5H780.5M673.5,402.5H780.5M673.5,406.5H780.5M673.5,410.5H780.5M673.5,414.5H780.5M673.5,418.5H780.5M673.5,422.5H780.5M673.5,426.5H780.5M673.5,430.5H780.5M673.5,434.5H780.5M673.5,438.5H780.5M673.5,442.5H780.5M673.5,446.5H780.5M673.5,450.5H780.5M673.5,454.5H780.5M673.5,458.5H780.5M673.5,462.5H780.5M673.5,466.5H780.5M673.5,470.5H780.5M673.5,221V477.5M678.5,221V477.5M702.5,221V477.5M728.5,221V477.5M732.5,221V477.5M755.5,221V477.5M761.5,221V477.5M768.5,221V477.5M780.5,221V477.5M673.5,477.5H780.5" stroke="#fff" fill="none"/>
<rect x="676.0" y="472.5" width="2.0" height="3.0" fill="url(#tx)"/>
<rect x="681.0" y="472.5" width="5.0" height="3.0" fill="url(#tx)"/>
<rect x="693.0" y="472.5" width="3.0" height="3.0" fill="url(#tx)"/>
<rect x="706.0" y="472.5" width="6.0" height="3.0" fill="url(#tx)"/>
<rect x="720.0" y="472.5" width="3.0" height="3.0" fill="url(#tx)"/>
<rect x="729.5" y="472.5" width="1.5" height="3.0" fill="url(#tx)"/>
<rect x="736.0" y="472.5" width="6.0" height="3.0" fill="url(#tx)"/>
<rect x="748.0" y="472.5" width="4.0" height="3.0" fill="url(#tx)"/>
<rect x="756.5" y="472.5" width="4.0" height="3.0" fill="url(#tx)"/>
<rect x="763.0" y="472.5" width="4.0" height="3.0" fill="url(#tx)"/>
<rect x="770.0" y="472.5" width="8.0" height="3.0" fill="url(#tx)"/>
<path d="M673.5,482.5H721.5M673.5,486.5H721.5M673.5,490.5H721.5M673.5,494.5H721.5M673.5,499.5H721.5M673.5,504.5H721.5M673.5,508.5H721.5M680.5,477.5V512.5M686.5,477.5V512.5M694.5,477.5V512.5M705.5,477.5V512.5M711.5,477.5V512.5M721.5,477.5V512.5M750.5,477.5V512.5M721.5,495.5H750.5M721.5,504.5H750.5M750.5,488.5H780.5M750.5,501.5H780.5" stroke="#fff" fill="none"/>
<rect x="674.0" y="488.0" width="22.0" height="5.0" fill="url(#tx)"/>
<rect x="696.0" y="488.0" width="12.0" height="3.0" fill="url(#tx)"/>
<rect x="674.0" y="493.0" width="18.0" height="4.0" fill="url(#tx)"/>
<rect x="700.0" y="492.0" width="10.0" height="5.0" fill="url(#tx)"/>
<rect x="674.0" y="499.0" width="6.0" height="4.0" fill="url(#tx)"/>
<rect x="674.0" y="505.0" width="6.0" height="4.0" fill="url(#tx)"/>
<rect x="724.0" y="497.0" width="20.0" height="6.0" fill="url(#tx)"/>
<rect x="744.0" y="500.0" width="5.0" height="4.0" fill="url(#tx)"/>
<rect x="723.0" y="505.0" width="22.0" height="6.0" fill="url(#tx)"/>
<rect x="753.0" y="480.0" width="24.0" height="3.0" fill="url(#tx)"/>
<rect x="753.0" y="484.0" width="25.0" height="3.0" fill="url(#tx)"/>
<rect x="752.0" y="490.0" width="19.0" height="6.0" fill="url(#tx)"/>
<rect x="753.0" y="506.0" width="18.0" height="3.0" fill="url(#tx)"/>

</g>
<path d="M739,218h2v3h-2zM742,219h4v3h-4zM769,222h10v2h-10zM773,226h6v3h-6z" fill="#fff" shape-rendering="crispEdges"/>
<!-- TEXT BLOCKS -->
<g fill="url(#tx)">
<path d="M138,427H242V441H149V443.5H138Z"/>
<path d="M139,443.5H244V450H224V454.5H139Z"/>
<path d="M138.5,454.5H245.5V481H163.5V484.5H141V481H138.5Z"/>
<path d="M297.5,428H421V437.5H420.5V443.8H301V437.5H297.5Z"/>
<path d="M297.5,443.8H420.5V460.1H411V468.7H352V475.7H331V480.4H297.5Z"/>
</g>
<!-- END TEXT -->
<!-- TOP RIGHT DETAIL -->
<g stroke="#fff" fill="none">
<path d="M612,93.5H624.5M646.5,93.5H664M626.5,93.5H645"/>
<path d="M612.5,93Q606,93.5 606.5,98Q607,102 612.5,102.5Z" fill="url(#wd)"/>
<path d="M659,93Q665.5,93.5 665,98Q664.5,102 659,102.5Z" fill="url(#wd)"/>
<path d="M612.5,102.5L617.5,106.5M659,102.5L654,106.5"/>
<path d="M615,105L626.5,94H631L619.5,107.5Z" fill="url(#wd)"/>
<path d="M656.5,105L645,94H640.5L652,107.5Z" fill="url(#wd)"/>
<rect x="632.5" y="94.5" width="6" height="3" fill="#000"/>
<circle cx="635.5" cy="116.5" r="17.8" stroke="url(#dots)" stroke-width="2.8"/>
<circle cx="635.5" cy="116.5" r="19.2"/><circle cx="635.5" cy="116.5" r="16.4"/>
<path d="M635.5,110L641.5,116.5L635.5,123L629.5,116.5Z" fill="url(#wd)" stroke="none"/>
<circle cx="635.5" cy="116.5" r="5.5" fill="url(#wd)" stroke="none"/>
<path d="M635.5,86V99M635.5,102V145M618.5,116.5H628M643,116.5H660M630,116.5h2M639,116.5h2"/>
<path d="M615.5,114.5L605,141.5V150M603,145v4"/>
<path d="M631,154h2v3h-2zM634,155h3v2h-3z" fill="#fff" stroke="none"/>
</g>
<!-- LEADERS -->
<g id="leaders">
<path d="M416.6,115L420.5,83.5h9.5M421.2,111.5L435.0,84.5h9.5M428.6,119L446.5,84.5h9.5M437.8,126.3L483.0,86.5h9.5M438.8,131L499.5,85.5h9.5M440.6,134.6L514.5,93.5h9.5M435,137L509.5,110.5h9.5M436.9,134.6L511.0,116.5h9.5M437.8,145.3L513.0,124.5h9.5M442.4,158.2L521.0,134.5h9.5M442.4,167L529.0,140.5h9.5M443.2,157.5L533.5,152.5h9.5M444.3,166L534.5,160.5h9.5M451.7,170.3L535.5,170.5h9.5M440,184.1L534.5,180.5h9.5M474,191.6L537.5,188.5h9.5M473,193.7L531.5,194.5h9.5M454,197.4L539.5,201.5h9.5M455,208.7L543.0,214.5h9.5M465.6,217.2L543.0,222.5h9.5M470,242.8L545.0,242.5h9.5M444.3,253.5L544.0,251.5h9.5M494.4,265.2L540.0,258.5h9.5M494.4,266.3L532.5,264.5h9.5M550.5,268L574.5,258.5h9.5M575,271.2L589.5,262.5h9.5M317,172.5h9L372.7,186.9M315,206.5h9L368,195M311,246.5h9L400,268M315,274.5h9L346.3,270.6M321,322.5h9L354,296M318,342.5h9L378,309M322.3,385.5h7L377.6,323.3M336.6,385.5h7L374.6,327.2M345.4,386.5h7L397.1,305.7M355.5,386.5h7L406,310.6M370.8,386.5h7L406,325.2M382.8,386.5h7L411.8,334M410.9,386.5h7L417.7,361.5M421.9,386.5h7L419.7,361.5M436.1,385.5h7L416.7,304.7M451.9,384.5h7L421.2,278.5M472.3,383.5h7L435.4,304M506.2,394.5h7L452.7,316M548.9,382.5h7L493,320M566.7,380.5h7L495,320M569.5,370.5h7L497,318M324.0,374.5h1.5V362L370.7,321.3M401.5,393.0h1.5V380.5L413.8,334M516.5,376V388L466.8,317" stroke="#f00" fill="none"/>
<path d="M439.7,114.3L472.5,85.5h8M327.8,265L376.4,273M323,124.5h7.5M326,146.5h4" stroke="#00f" fill="none"/>
<path d="M330.5,124.5L394,136.5M330,146.5L394,136" stroke="#fff" fill="none"/>
<path d="M424,80h5v4h-5zM438,80h5v4h-5zM450,80h5v4h-5zM486,82h5v4h-5zM502,82h5v4h-5zM518,90h5v4h-5zM512,106h5v4h-5zM514,112h5v4h-5zM516,120h5v4h-5zM524,130h5v4h-5zM532,136h5v4h-5zM536,148h5v4h-5zM538,156h5v4h-5zM538,166h5v4h-5zM538,176h5v4h-5zM540,184h5v4h-5zM534,190h5v4h-5zM542,198h5v4h-5zM546,210h5v4h-5zM546,218h5v4h-5zM548,238h5v4h-5zM547,248h5v4h-5zM543,254h5v4h-5zM536,260h5v4h-5zM578,254h5v4h-5zM592,258h5v4h-5zM317,168h5v4h-5zM315,202h5v4h-5zM311,242h5v4h-5zM315,270h5v4h-5zM321,318h5v4h-5zM318,338h5v4h-5zM323,382h5v3h-5zM337,382h5v3h-5zM346,383h5v3h-5zM356,383h5v3h-5zM371,383h5v3h-5zM383,383h5v3h-5zM411,383h5v3h-5zM422,383h5v3h-5zM437,382h5v3h-5zM452,381h5v3h-5zM473,380h5v3h-5zM507,391h5v3h-5zM549,379h5v3h-5zM567,377h5v3h-5zM570,367h5v3h-5zM320,359h4.5v4h-4.5zM320,365h4.5v4h-4.5zM320,371h4.5v4h-4.5zM397.5,377.5h4.5v4h-4.5zM397.5,383.5h4.5v4h-4.5zM397.5,389.5h4.5v4h-4.5zM518,376.0h4.5v3.5h-4.5zM518,380.5h4.5v3.5h-4.5zM518,385.0h4.5v3.5h-4.5zM320,262h5v4h-5z" fill="#f00"/>
<path d="M475,82h5v4h-5zM323,121h4v3h-4zM327,122h1v1h-1zM325,141h5v1h-5zM325,143h5v2h-5z" fill="#00f"/>
<path d="M425,82h1v1h-1zM428,82h1v1h-1zM439,82h1v1h-1zM451,81h1v1h-1zM487,84h1v1h-1zM504,83h1v1h-1zM505,83h1v1h-1zM519,92h1v1h-1zM514,108h1v1h-1zM516,108h1v1h-1zM515,114h1v1h-1zM517,113h1v1h-1zM517,122h1v1h-1zM520,122h1v1h-1zM526,131h1v1h-1zM527,132h1v1h-1zM533,137h1v1h-1zM537,149h1v1h-1zM540,150h1v1h-1zM539,158h1v1h-1zM540,168h1v1h-1zM542,168h1v1h-1zM540,178h1v1h-1zM541,177h1v1h-1zM541,186h1v1h-1zM543,185h1v1h-1zM536,191h1v1h-1zM537,192h1v1h-1zM544,200h1v1h-1zM548,211h1v1h-1zM549,211h1v1h-1zM548,220h1v1h-1zM549,219h1v1h-1zM550,239h1v1h-1zM548,250h1v1h-1zM551,249h1v1h-1zM544,255h1v1h-1zM547,256h1v1h-1zM538,261h1v1h-1zM579,256h1v1h-1zM581,256h1v1h-1zM593,259h1v1h-1zM596,259h1v1h-1zM476,84h1v1h-1zM478,84h1v1h-1zM318,169h1v1h-1zM317,203h1v1h-1zM313,244h1v1h-1zM315,244h1v1h-1zM316,272h1v1h-1zM318,272h1v1h-1zM322,319h1v1h-1zM325,319h1v1h-1zM320,340h1v1h-1zM321,339h1v1h-1zM324,383h1v1h-1zM326,383h1v1h-1zM339,383h1v1h-1zM340,383h1v1h-1zM347,384h1v1h-1zM350,384h1v1h-1zM358,384h1v1h-1zM359,384h1v1h-1zM373,384h1v1h-1zM384,384h1v1h-1zM412,384h1v1h-1zM414,384h1v1h-1zM423,384h1v1h-1zM426,384h1v1h-1zM438,383h1v1h-1zM441,383h1v1h-1zM453,382h1v1h-1zM456,382h1v1h-1zM475,381h1v1h-1zM477,381h1v1h-1zM509,392h1v1h-1zM511,392h1v1h-1zM550,380h1v1h-1zM553,380h1v1h-1zM569,378h1v1h-1zM571,378h1v1h-1zM571,368h1v1h-1zM574,368h1v1h-1zM321,360h1v1h-1zM321,372h1v1h-1zM398.5,378.5h1v1h-1zM398.5,390.5h1v1h-1zM519,377.0h1v1h-1zM519,386.0h1v1h-1zM321,264h1v1h-1z" fill="#000"/>

</g>
<!-- END LEADERS -->
<!-- CAPTION -->
<g id="caption">
<path d="M313,534L318,527.5H320L319.5,534H318L318.3,532H316.5L315,534ZM317.3,531H318.4L318.8,529Z" fill="#f00"/>
<path d="M324.5,527.5H327.5L325,534H322Z" fill="none" stroke="#f00" stroke-width="1.3"/>
<path d="M331,526v4M329,527.5h3M329,529.5h3M334,527.5h4M336,526v4M333,530.5h5M329,532h9M333,532L329,535M333,532V535M334,533L337.5,535M335,532.5L337,531M337.5,527.5h4M337.5,527.5v7h4v-7M337.5,530.5h4M339.5,528v3M342.5,527.5h3v3h-3v4h3.5M346.5,527.5h7v7h-7zM348,529h4L349,532M350,530.5L352.5,532.5M348.5,533h3M355.5,527.5h6v7M355.5,527.5V532L354.5,534.5M355.5,530h6M355.5,532h6M358.5,527.5v7" fill="none" stroke="#f00" stroke-width="1.2"/>
<path d="M368,528h1v6h-1zM369,527h1v1h-1zM369,534h1v1h-1zM371,530h6v1h-6zM371,533h4v1h-4zM371,528h5v1h-5zM372,529h3v1h-3zM375,530h1v4h-1zM371,528h1v6h-1zM371,529h2v2h-2zM378,530h4v1h-4zM378,529h6v1h-6zM379,531h3v1h-3zM378,528h1v6h-1zM383,528h1v6h-1zM379,529h2v2h-2zM385,530h6v1h-6zM385,529h5v1h-5zM386,532h3v1h-3zM388,528h1v6h-1zM386,529h1v5h-1zM385,530h2v2h-2zM393,532h3v1h-3zM393,533h4v1h-4zM393,528h4v1h-4zM394,529h1v5h-1zM393,530h1v4h-1zM395,528h1v6h-1zM392,530h2v2h-2zM399,533h6v1h-6zM400,530h4v1h-4zM400,531h5v1h-5zM402,530h1v4h-1zM399,528h1v6h-1zM403,529h2v2h-2zM407,529h5v1h-5zM407,531h4v1h-4zM406,530h6v1h-6zM408,529h1v5h-1zM411,528h1v6h-1zM406,528h1v6h-1zM408,532h2v2h-2zM414,533h1v2h-1zM417,530h5v1h-5zM418,529h4v1h-4zM417,533h4v1h-4zM417,532h6v1h-6zM419,530h1v4h-1zM420,528h1v6h-1zM418,528h1v6h-1zM421,532h2v2h-2zM425,528h4v1h-4zM425,529h3v1h-3zM424,530h6v1h-6zM427,528h1v6h-1zM426,528h1v6h-1zM428,529h2v2h-2zM432,531h3v1h-3zM431,528h5v1h-5zM432,529h3v1h-3zM432,533h5v1h-5zM435,529h1v5h-1zM434,530h1v4h-1zM433,531h2v2h-2zM438,530h4v1h-4zM439,531h5v1h-5zM438,532h6v1h-6zM440,528h1v6h-1zM439,529h1v5h-1zM440,532h2v2h-2zM445,532h5v1h-5zM446,530h5v1h-5zM446,528h4v1h-4zM446,529h5v1h-5zM447,530h1v4h-1zM450,528h1v6h-1zM446,529h1v5h-1zM449,530h2v2h-2zM453,533h5v1h-5zM453,530h4v1h-4zM453,531h5v1h-5zM457,529h1v5h-1zM455,528h1v6h-1zM455,530h2v2h-2zM459,532h5v1h-5zM460,529h4v1h-4zM459,533h6v1h-6zM464,530h1v4h-1zM462,530h1v4h-1zM460,530h1v4h-1zM462,530h2v2h-2zM466,532h6v1h-6zM467,530h5v1h-5zM466,528h4v1h-4zM466,531h6v1h-6zM466,528h1v6h-1zM469,528h1v6h-1zM467,528h1v6h-1zM466,530h2v2h-2zM474,531h4v1h-4zM474,529h4v1h-4zM473,528h6v1h-6zM474,528h1v6h-1zM475,529h1v5h-1zM476,530h2v2h-2zM480,528h6v1h-6zM481,532h3v1h-3zM481,530h5v1h-5zM482,529h1v5h-1zM484,528h1v6h-1zM485,529h1v5h-1zM483,532h2v2h-2zM487,532h6v1h-6zM488,530h5v1h-5zM488,531h3v1h-3zM487,528h6v1h-6zM489,529h1v5h-1zM487,528h1v6h-1zM489,532h2v2h-2zM495,532h4v1h-4zM495,529h3v1h-3zM495,530h4v1h-4zM495,531h5v1h-5zM497,530h1v4h-1zM495,530h1v4h-1zM496,530h2v2h-2zM502,530h4v1h-4zM502,531h4v1h-4zM501,528h5v1h-5zM501,529h1v5h-1zM505,528h1v6h-1zM503,528h2v2h-2zM509,531h3v1h-3zM509,528h3v1h-3zM508,533h5v1h-5zM509,529h1v5h-1zM510,529h1v5h-1zM512,531h2v2h-2zM515,533h5v1h-5zM516,532h5v1h-5zM516,528h5v1h-5zM516,531h5v1h-5zM515,529h1v5h-1zM518,530h1v4h-1zM517,530h1v4h-1zM519,529h2v2h-2zM522,528h6v1h-6zM522,530h4v1h-4zM523,531h4v1h-4zM526,529h1v5h-1zM525,529h1v5h-1zM527,530h1v4h-1zM523,530h2v2h-2zM530,528h5v1h-5zM530,530h5v1h-5zM530,533h4v1h-4zM530,530h1v4h-1zM532,530h1v4h-1zM532,530h2v2h-2zM313,538h5v1h-5zM313,540h4v1h-4zM313,537h5v1h-5zM314,541h3v1h-3zM318,537h1v6h-1zM316,537h1v6h-1zM313,538h2v2h-2zM321,542h3v1h-3zM320,537h6v1h-6zM320,538h5v1h-5zM320,540h4v1h-4zM321,539h1v4h-1zM320,538h1v5h-1zM324,539h1v4h-1zM320,539h2v2h-2zM328,541h5v1h-5zM327,542h4v1h-4zM328,537h3v1h-3zM332,538h1v5h-1zM331,538h1v5h-1zM329,539h2v2h-2zM335,538h5v1h-5zM334,539h5v1h-5zM334,542h6v1h-6zM336,539h1v4h-1zM339,537h1v6h-1zM335,539h2v2h-2zM341,542h6v1h-6zM341,540h6v1h-6zM342,538h3v1h-3zM346,537h1v6h-1zM341,539h1v4h-1zM345,539h1v4h-1zM344,538h2v2h-2zM348,541h1v3h-1zM352,540h6v1h-6zM352,542h6v1h-6zM353,539h3v1h-3zM355,539h1v4h-1zM353,537h1v6h-1zM352,540h2v2h-2zM360,538h3v1h-3zM360,541h4v1h-4zM360,540h4v1h-4zM360,539h1v4h-1zM361,538h1v5h-1zM362,539h2v2h-2zM366,537h5v1h-5zM366,541h4v1h-4zM366,538h4v1h-4zM366,539h4v1h-4zM366,538h1v5h-1zM369,539h1v4h-1zM368,537h2v2h-2zM374,540h4v1h-4zM374,539h3v1h-3zM373,542h4v1h-4zM374,538h1v5h-1zM373,538h1v5h-1zM375,537h1v6h-1zM377,539h2v2h-2zM380,539h4v1h-4zM381,538h3v1h-3zM381,542h4v1h-4zM380,539h1v4h-1zM385,538h1v5h-1zM383,538h2v2h-2zM388,542h5v1h-5zM387,539h6v1h-6zM387,541h4v1h-4zM392,539h1v4h-1zM387,537h1v6h-1zM387,541h2v2h-2zM394,542h5v1h-5zM395,539h4v1h-4zM394,541h6v1h-6zM397,537h1v6h-1zM395,539h1v4h-1zM398,537h1v6h-1zM394,541h2v2h-2zM402,542h3v1h-3zM402,539h5v1h-5zM402,537h3v1h-3zM401,539h1v4h-1zM405,539h1v4h-1zM403,537h2v2h-2zM409,537h3v1h-3zM408,538h6v1h-6zM408,540h5v1h-5zM409,542h3v1h-3zM410,538h1v5h-1zM411,538h1v5h-1zM408,537h2v2h-2zM415,538h6v1h-6zM415,541h4v1h-4zM416,540h3v1h-3zM419,539h1v4h-1zM416,537h1v6h-1zM416,541h2v2h-2zM423,540h4v1h-4zM423,541h5v1h-5zM422,539h6v1h-6zM424,537h1v6h-1zM425,539h1v4h-1zM422,538h2v2h-2zM429,541h1v3h-1zM434,540h4v1h-4zM433,537h4v1h-4zM433,539h5v1h-5zM438,538h1v5h-1zM433,539h1v4h-1zM434,539h2v2h-2zM440,540h5v1h-5zM441,538h3v1h-3zM440,537h5v1h-5zM443,537h1v6h-1zM444,538h1v5h-1zM441,541h2v2h-2zM447,540h6v1h-6zM448,538h4v1h-4zM447,537h5v1h-5zM448,538h1v5h-1zM449,537h1v6h-1zM447,537h1v6h-1zM449,540h2v2h-2zM454,539h4v1h-4zM454,542h4v1h-4zM454,537h5v1h-5zM455,540h4v1h-4zM454,537h1v6h-1zM455,538h1v5h-1zM457,537h1v6h-1zM456,539h2v2h-2zM461,538h5v1h-5zM461,541h6v1h-6zM461,542h5v1h-5zM464,538h1v5h-1zM461,538h1v5h-1zM464,538h2v2h-2zM469,541h3v1h-3zM468,540h6v1h-6zM469,538h4v1h-4zM468,538h1v5h-1zM473,539h1v4h-1zM469,537h1v6h-1zM469,537h2v2h-2zM476,541h4v1h-4zM476,538h3v1h-3zM475,540h5v1h-5zM477,539h1v4h-1zM479,538h1v5h-1zM476,539h2v2h-2z" fill="#f00"/>

</g>
<!-- END CAPTION -->
<!-- drain plugs -->
<path d="M277,267h2v2h-2z" fill="#0000ff"/>
<path d="M213,358.5H232M219.5,359V364.5H225.5V359" fill="none" stroke="#fff"/>
<path d="M220,359h5v2h-5z" fill="#0000ff"/>
<path d="M215.5,112.5H230" stroke="#0000ff" stroke-width="1.6"/>
</svg>
</body></html>
